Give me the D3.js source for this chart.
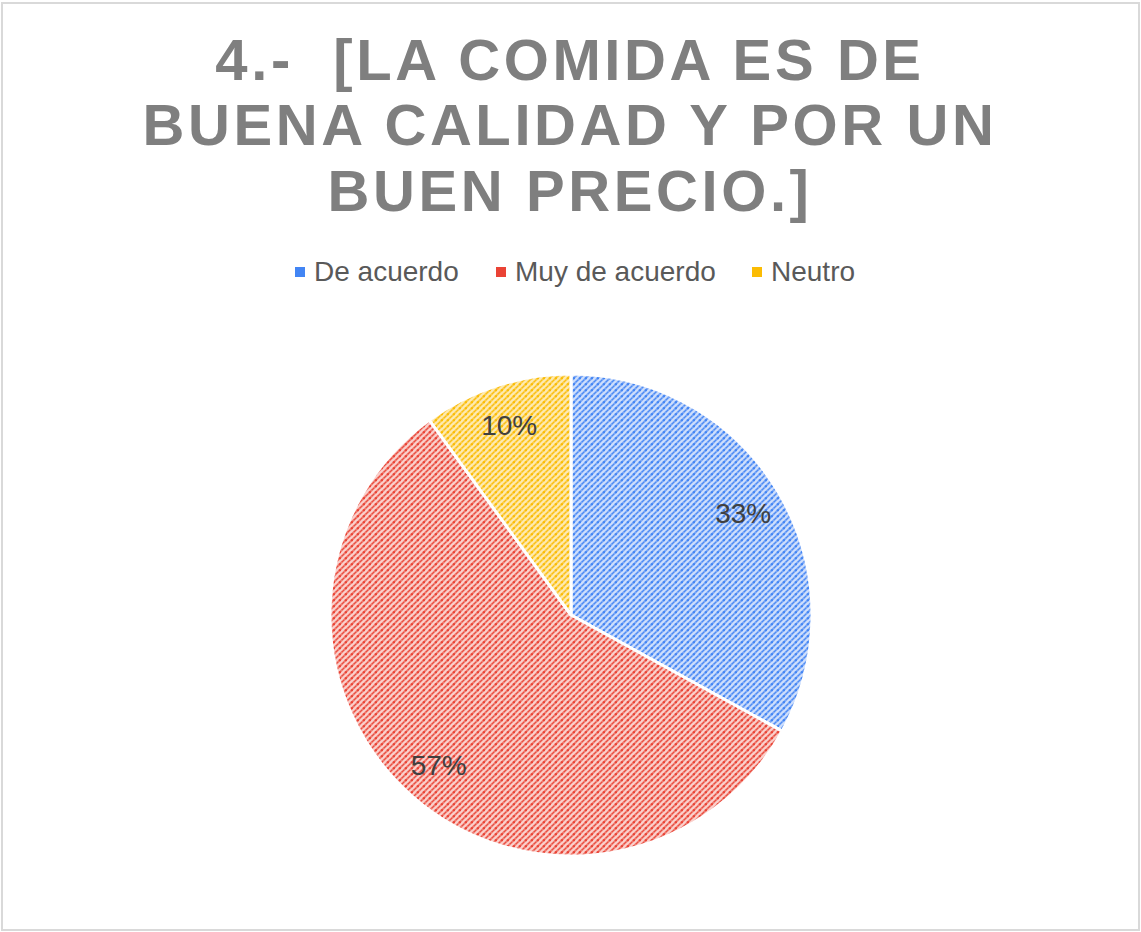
<!DOCTYPE html>
<html>
<head>
<meta charset="utf-8">
<script src="https://cdn.jsdelivr.net/npm/d3@7"></script>
<style>
html,body{margin:0;padding:0;background:#fff;}
svg{display:block;}
</style>
</head>
<body>
<svg id="chart" width="1141" height="932"></svg>
<script>
const titleLines = ["4.-  [LA COMIDA ES DE", "BUENA CALIDAD Y POR UN", "BUEN PRECIO.]"];
const categories = ["De acuerdo", "Muy de acuerdo", "Neutro"];
const values = [33, 57, 10];
const labels = ["33%", "57%", "10%"];
const lineColors = ["#4285F4", "#EA4335", "#FBBC04"];
const midColors = ["#7aa7f7", "#ef7b70", "#fcce4a"];
const bgColors = ["#d0e0fc", "#fbd2ce", "#feebb3"];

const W = 1141, H = 932;
const svg = d3.select("#chart");

svg.append("rect").attr("x", 2).attr("y", 3).attr("width", W - 4).attr("height", H - 5)
  .attr("fill", "#fff").attr("stroke", "#d9d9d9").attr("stroke-width", 2);

const defs = svg.append("defs");
categories.forEach((c, i) => {
  const p = defs.append("pattern").attr("id", "pat" + i)
    .attr("patternUnits", "userSpaceOnUse").attr("width", 6).attr("height", 6);
  p.append("rect").attr("width", 6).attr("height", 6).attr("fill", bgColors[i]);
  p.append("path").attr("d", "M0,6 L6,0 M-1,1 L1,-1 M5,7 L7,5")
    .attr("stroke", midColors[i]).attr("stroke-width", 2.2);
  p.append("rect").attr("x", 1.8).attr("y", 2.2).attr("width", 2.2).attr("height", 2)
    .attr("fill", lineColors[i]);
  p.append("rect").attr("x", -1.2).attr("y", 5.2).attr("width", 2.2).attr("height", 1.6)
    .attr("fill", lineColors[i]);
  p.append("rect").attr("x", 4.8).attr("y", -0.8).attr("width", 2.2).attr("height", 1.6)
    .attr("fill", lineColors[i]);
});

// Title
const baselines = [80, 145, 211];
titleLines.forEach((t, i) => {
  svg.append("text").attr("x", 570).attr("y", baselines[i])
    .attr("text-anchor", "middle")
    .style("white-space", "pre")
    .attr("xml:space", "preserve")
    .attr("font-family", "Liberation Sans, Arial, sans-serif")
    .attr("font-weight", "bold").attr("font-size", 58)
    .attr("letter-spacing", "3.6px")
    .attr("fill", "#7f7f7f").text(t);
});

// Legend
const legendX = [295, 496, 752];
const legend = svg.append("g");
categories.forEach((c, i) => {
  legend.append("rect").attr("x", legendX[i]).attr("y", 267).attr("width", 10).attr("height", 10)
    .attr("fill", lineColors[i]);
  legend.append("text").attr("x", legendX[i] + 19).attr("y", 281)
    .attr("font-family", "Liberation Sans, Arial, sans-serif").attr("font-size", 28)
    .attr("fill", "#595959").text(c);
});

// Pie
const cx = 571, cy = 615, R = 241;
const pie = d3.pie().sort(null).value(d => d)(values);
const arc = d3.arc().innerRadius(0).outerRadius(R);
const labelArc = d3.arc().innerRadius(200).outerRadius(200);
const g = svg.append("g").attr("transform", `translate(${cx},${cy})`);
g.selectAll("path.slice").data(pie).enter().append("path").attr("class", "slice")
  .attr("d", arc).attr("fill", (d, i) => `url(#pat${i})`)
  .attr("stroke", "#fff").attr("stroke-width", 3).attr("stroke-linejoin", "round");
g.selectAll("text.lbl").data(pie).enter().append("text").attr("class", "lbl")
  .attr("transform", d => `translate(${labelArc.centroid(d)})`)
  .attr("text-anchor", "middle").attr("dy", "0.36em")
  .attr("font-family", "Liberation Sans, Arial, sans-serif").attr("font-size", 28)
  .attr("fill", "#404040").text((d, i) => labels[i]);
</script>
</body>
</html>
